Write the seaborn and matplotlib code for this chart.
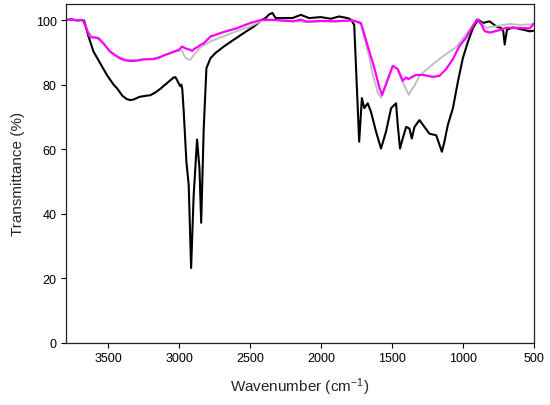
import matplotlib
matplotlib.use("Agg")
import matplotlib.pyplot as plt
import seaborn as sns
import pandas as pd

# ---- data ----
black_wn = [3800, 3760, 3720, 3690, 3670, 3640, 3605, 3557, 3510, 3463, 3439, 3400, 3369, 3345,
            3320, 3280, 3240, 3204, 3170, 3133, 3090, 3055, 3039, 3027, 3015, 3005, 2992, 2985,
            2978, 2968, 2949, 2933, 2916, 2898, 2874, 2857, 2845, 2827, 2808, 2779, 2744, 2685,
            2615, 2544, 2473, 2414, 2391, 2367, 2343, 2320, 2261, 2202, 2143, 2084, 2002, 1931,
            1872, 1813, 1789, 1766, 1749, 1731, 1712, 1695, 1671, 1648, 1612, 1577, 1542, 1506,
            1471, 1459, 1443, 1424, 1400, 1377, 1360, 1341, 1306, 1271, 1236, 1188, 1148, 1130,
            1106, 1070, 1035, 1000, 964, 929, 893, 858, 811, 764, 729, 715, 705, 689, 646, 575,
            528, 500]
black_t = [100, 100.2, 99.9, 100, 99.8, 95, 90.3, 86.6, 83, 80, 78.9, 76.5, 75.5, 75.2,
           75.4, 76.2, 76.5, 76.7, 77.5, 78.7, 80.3, 81.6, 82.2, 82.3, 81.4, 80.5, 79.5, 80.0,
           78.5, 71.6, 56, 48.9, 23.2, 45.7, 63, 54, 37.2, 66.5, 85.1, 88.2, 89.8, 91.8,
           93.9, 96, 98, 100.1, 100.6, 101.7, 102.2, 100.6, 100.6, 100.6, 101.6, 100.6, 100.9, 100.4,
           101.1, 100.6, 100.1, 98.5, 80.9, 62.3, 75.8, 72.7, 74.2, 71.6, 65.4, 60.2, 65.4, 72.7,
           74.2, 67.5, 60.2, 63.3, 66.9, 66.4, 63.3, 66.9, 69.0, 66.9, 64.8, 64.3, 59.2, 62.3,
           67.5, 72.7, 80.9, 88.2, 93.3, 97.5, 100.1, 99.1, 99.6, 98, 97.5, 96.5, 92.4, 97, 97.7, 97,
           96.5, 96.7]

grey_wn = [3800, 3720, 3690, 3670, 3647, 3616, 3569, 3534, 3487, 3450, 3416, 3380, 3345, 3300,
           3251, 3180, 3110, 3039, 3000, 2980, 2960, 2944, 2921, 2909, 2890, 2874, 2850, 2779,
           2685, 2591, 2497, 2414, 2320, 2200, 2100, 2000, 1900, 1777, 1719, 1695, 1660, 1636,
           1600, 1577, 1550, 1494, 1459, 1424, 1400, 1381, 1365, 1342, 1306, 1260, 1212, 1118,
           1047, 976, 900, 870, 835, 764, 669, 600, 500]
grey_t = [100, 100, 99.9, 99, 96.8, 95, 94, 92.5, 90.3, 89.2, 88.4, 87.8, 87.6, 87.6,
          87.9, 88, 89, 90, 90.5, 90.5, 88.5, 88, 87.6, 88.5, 89.5, 90.3, 91.5, 93.4,
          95, 96.6, 98, 99.8, 100, 99.6, 99.4, 99.6, 99.6, 99.8, 98.8, 94.6, 88.5, 83.2,
          77.5, 75.9, 79, 85.8, 84.5, 80.7, 78.5, 76.8, 78.2, 79.6, 82.7, 84.5, 86.3, 89.5,
          91.6, 95.7, 100.1, 99, 97.6, 98.1, 98.8, 98.5, 98.7]

mag_wn = [3800, 3760, 3720, 3690, 3675, 3647, 3630, 3616, 3590, 3569, 3534, 3487, 3450, 3416,
          3380, 3345, 3300, 3251, 3180, 3140, 3110, 3039, 3000, 2980, 2960, 2944, 2921, 2909,
          2890, 2874, 2850, 2827, 2779, 2685, 2591, 2497, 2414, 2320, 2200, 2143, 2100, 2000,
          1900, 1777, 1719, 1695, 1660, 1625, 1589, 1570, 1542, 1494, 1459, 1424, 1400, 1385,
          1365, 1330, 1282, 1212, 1165, 1118, 1070, 1023, 976, 929, 900, 870, 847, 811, 764,
          693, 622, 528, 500]
mag_t = [100, 100.1, 99.9, 100, 99.8, 96.5, 94.8, 94.6, 94.6, 94.4, 92.8, 90.2, 89, 88.1,
         87.5, 87.3, 87.4, 87.8, 87.9, 88.4, 89, 90.2, 90.8, 91.8, 91.3, 91, 90.8, 90.4,
         91.2, 91.5, 92.3, 92.8, 94.9, 96.3, 97.5, 99.1, 100.1, 100, 99.6, 100.1, 99.5, 99.7,
         99.6, 99.9, 99.1, 95.6, 90.4, 85.3, 79.1, 76.8, 80.1, 85.8, 84.8, 81.2, 82.2, 81.7,
         82.2, 83, 83, 82.4, 82.7, 84.8, 87.9, 92, 94.6, 98.2, 100.2, 98.7, 96.6, 96.1, 96.6,
         97.6, 97.6, 97.4, 98.9]

x_ticks = [3500, 3000, 2500, 2000, 1500, 1000, 500]
y_ticks = [0, 20, 40, 60, 80, 100]

# ---- style ----
sns.set_theme(style="ticks")
plt.rcParams['font.family'] = ['Liberation Sans', 'DejaVu Sans']
plt.rcParams['mathtext.fontset'] = 'custom'
plt.rcParams['mathtext.rm'] = 'Liberation Sans'
plt.rcParams['mathtext.it'] = 'Liberation Sans:italic'
plt.rcParams['mathtext.bf'] = 'Liberation Sans:bold'

fig = plt.figure(figsize=(5.5, 4.06), dpi=100)
ax = fig.add_axes([0.1195, 0.153, 0.851, 0.835])

df_b = pd.DataFrame({"wn": black_wn, "t": black_t})
df_g = pd.DataFrame({"wn": grey_wn, "t": grey_t})
df_m = pd.DataFrame({"wn": mag_wn, "t": mag_t})

sns.lineplot(data=df_b, x="wn", y="t", ax=ax, color="black", linewidth=1.5, estimator=None)
sns.lineplot(data=df_g, x="wn", y="t", ax=ax, color="#bdbdbd", linewidth=1.3, estimator=None)
sns.lineplot(data=df_m, x="wn", y="t", ax=ax, color="#ff00ff", linewidth=1.6, estimator=None)

ax.set_xlim(3800, 500)
ax.set_ylim(0, 105)
ax.set_xticks(x_ticks)
ax.set_yticks(y_ticks)
ax.tick_params(axis='both', direction='out', length=3.5, width=0.8, labelsize=9,
               colors='black', pad=3)
for s in ax.spines.values():
    s.set_color('#222222')
    s.set_linewidth(0.9)

ax.set_xlabel("Wavenumber (cm$^{\\mathregular{-1}}$)", fontsize=11, labelpad=8)
ax.set_ylabel("Transmittance (%)", fontsize=11, labelpad=8)

fig.savefig("out.png", dpi=100)
